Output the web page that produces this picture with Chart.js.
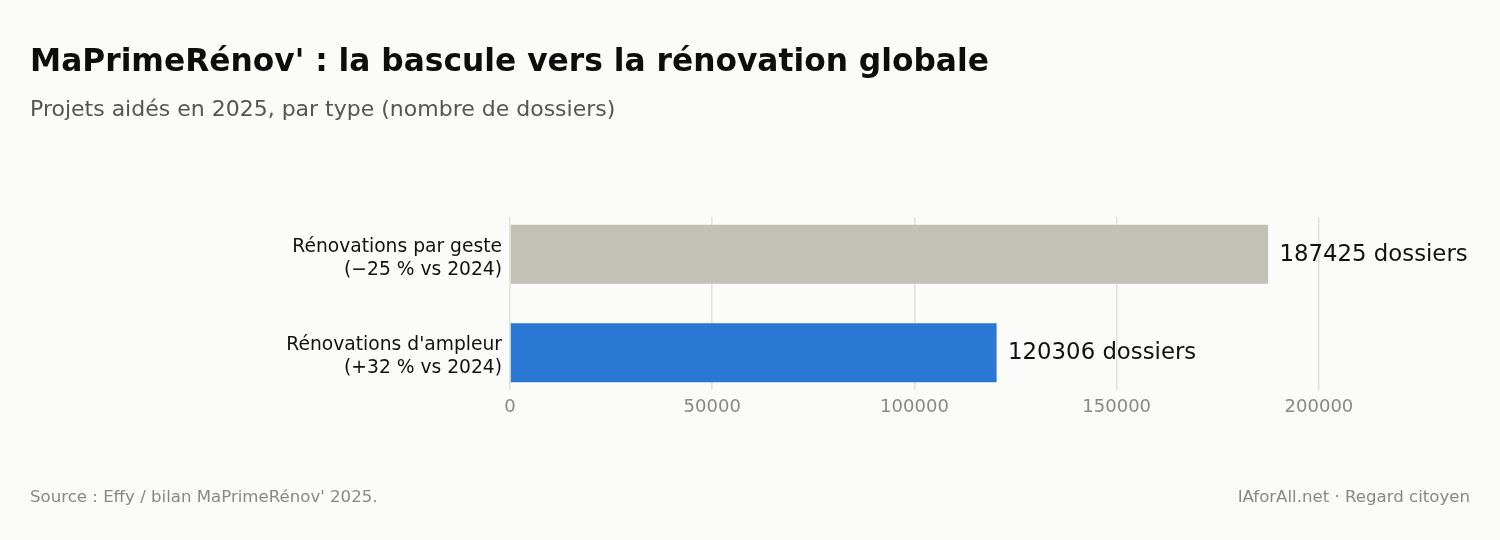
<!DOCTYPE html>
<html lang="fr">
<head>
<meta charset="utf-8">
<script src="https://cdn.jsdelivr.net/npm/chart.js@4"></script>
<style>
  html, body { margin: 0; padding: 0; background: #fbfbf9; }
  #wrap { position: relative; width: 1500px; height: 540px; background: #fbfbf9; font-family: 'DejaVu Sans', sans-serif; }
  #c { position: absolute; left: 0; top: 0; }
  .t { position: absolute; white-space: nowrap; margin: 0; }
  #title { left: 30px; top: 40px; font-size: 31.3px; font-weight: bold; color: #0d0d0d; line-height: 40px; }
  #subtitle { left: 30px; top: 95px; font-size: 22px; color: #555555; line-height: 28px; }
  #source { left: 30px; top: 486px; font-size: 16.6px; color: #888888; line-height: 22px; }
  #brand { right: 30px; top: 486px; font-size: 16.6px; color: #888888; line-height: 22px; }
</style>
</head>
<body>
<div id="wrap">
  <canvas id="c" width="1500" height="540"></canvas>
  <div class="t" id="title">MaPrimeRénov' : la bascule vers la rénovation globale</div>
  <div class="t" id="subtitle">Projets aidés en 2025, par type (nombre de dossiers)</div>
  <div class="t" id="source">Source : Effy / bilan MaPrimeRénov' 2025.</div>
  <div class="t" id="brand">IAforAll.net · Regard citoyen</div>
</div>
<script>
// Data (top to bottom)
const categories = [
  ["Rénovations par geste", "(\u221225 % vs 2024)"],
  ["Rénovations d'ampleur", "(+32 % vs 2024)"]
];
const values = [187425, 120306];
const barColors = ["#c2c1b5", "#2a77d4"];
const valueSuffix = " dossiers";
const xTicks = [0, 50000, 100000, 150000, 200000];
const xMax = 232400;

Chart.defaults.font.family = "'DejaVu Sans', sans-serif";

const valueLabels = {
  id: 'valueLabels',
  afterDatasetsDraw(chart) {
    const ctx = chart.ctx;
    const meta = chart.getDatasetMeta(0);
    ctx.save();
    ctx.font = "22.8px 'DejaVu Sans', sans-serif";
    ctx.fillStyle = "#111111";
    ctx.textAlign = "left";
    ctx.textBaseline = "middle";
    meta.data.forEach((bar, i) => {
      ctx.fillText(values[i] + valueSuffix, bar.x + 11.5, bar.y + 0.5);
    });
    ctx.restore();
  }
};

new Chart(document.getElementById('c'), {
  type: 'bar',
  data: {
    datasets: [{
      data: categories.map((c, i) => ({ x: values[i], y: i })),
      backgroundColor: barColors,
      borderWidth: 0,
      barPercentage: 0.6,
      categoryPercentage: 1.0
    }]
  },
  options: {
    indexAxis: 'y',
    responsive: false,
    animation: false,
    devicePixelRatio: 1,
    layout: { padding: { left: 0, right: 50, top: 217, bottom: 110 } },
    plugins: { legend: { display: false }, tooltip: { enabled: false }, title: { display: false } },
    scales: {
      x: {
        type: 'linear',
        bounds: 'data',
        min: 0,
        max: xMax,
        grid: { color: '#e2e1da', lineWidth: 1.5, drawTicks: false },
        border: { display: false },
        afterBuildTicks: s => { s.ticks = xTicks.map(v => ({ value: v })); },
        ticks: {
          padding: 7,
          color: '#888888',
          font: { size: 18 },
          autoSkip: false,
          maxRotation: 0,
          callback: v => String(v)
        },
        afterFit: s => { s.height = 40; }
      },
      y: {
        type: 'linear',
        bounds: 'data',
        offset: false,
        reverse: true,
        min: -0.38,
        max: categories.length - 1 + 0.38,
        grid: { display: false, drawTicks: false, offset: false },
        border: { display: false },
        afterBuildTicks: s => { s.ticks = categories.map((c, i) => ({ value: i })); },
        ticks: {
          padding: 8,
          labelOffset: 4,
          color: '#111111',
          autoSkip: false,
          font: { size: 18.7, lineHeight: 1.22 },
          callback: v => categories[v] || ''
        },
        afterFit: s => { s.width = 510; }
      }
    }
  },
  plugins: [valueLabels]
});
</script>
</body>
</html>
